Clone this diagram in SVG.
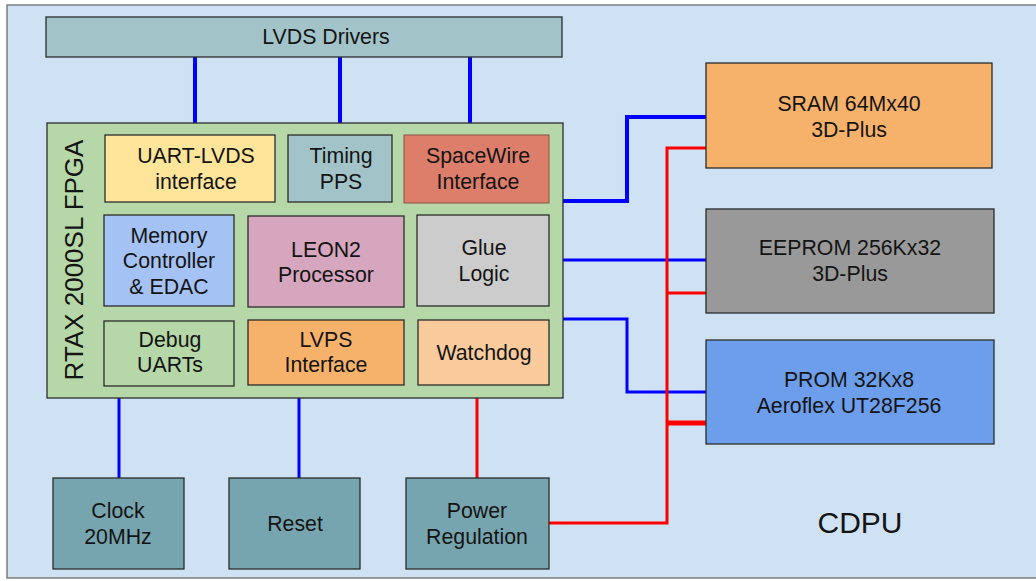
<svg xmlns="http://www.w3.org/2000/svg" width="1036" height="581" viewBox="0 0 1036 581">
  <style>
    text { font-family: "Liberation Sans", Arial, sans-serif; fill: #141414; text-anchor: middle; }
    .lbl { font-size: 21.3px; }
    .box { stroke: #2b2b2b; stroke-width: 1.3; }
    .bus { fill: none; stroke: #0000ff; stroke-linejoin: miter; }
    .pwr { fill: none; stroke: #ff0000; stroke-linejoin: miter; }
  </style>

  <!-- board background -->
  <rect x="7" y="5" width="1040" height="573" fill="#cfe2f3" stroke="#6b6b6b" stroke-width="1.3"/>

  <!-- connectors -->
  <g id="connectors">
    <!-- LVDS driver links -->
    <line class="bus" x1="195" y1="57" x2="195" y2="135" stroke-width="4"/>
    <line class="bus" x1="340" y1="57" x2="340" y2="135" stroke-width="4"/>
    <line class="bus" x1="470" y1="57" x2="470" y2="135" stroke-width="4"/>
    <!-- memory buses -->
    <path class="bus" d="M563,201 H627 V117 H706" stroke-width="4"/>
    <path class="bus" d="M563,260 H706" stroke-width="3"/>
    <path class="bus" d="M563,319 H627 V392 H706" stroke-width="3"/>
    <!-- clock / reset -->
    <line class="bus" x1="119" y1="398" x2="119" y2="478" stroke-width="3"/>
    <line class="bus" x1="299" y1="398" x2="299" y2="478" stroke-width="3"/>
    <!-- power distribution -->
    <line class="pwr" x1="477" y1="398" x2="477" y2="478" stroke-width="3"/>
    <path class="pwr" d="M549,523 H667 V148 H706" stroke-width="3"/>
    <path class="pwr" d="M667,293 H706" stroke-width="3"/>
    <path class="pwr" d="M667,423 H706" stroke-width="5"/>
  </g>

  <g id="lvds-drivers">
    <rect class="box" x="46" y="17" width="516" height="40" fill="#a2c4c9"/>
    <text class="lbl" x="326" y="44">LVDS Drivers</text>
  </g>

  <g id="fpga">
    <rect class="box" x="47" y="123" width="516" height="275" fill="#b6d7a8"/>
    <text transform="translate(83,260) rotate(-90)" font-size="26">RTAX 2000SL FPGA</text>
  </g>

  <g id="uart-lvds">
    <rect class="box" x="105" y="135" width="170" height="67" fill="#ffe599"/>
    <text class="lbl" x="196" y="163">UART-LVDS</text>
    <text class="lbl" x="196" y="189">interface</text>
  </g>

  <g id="timing">
    <rect class="box" x="288" y="135" width="104" height="67" fill="#a2c4c9"/>
    <text class="lbl" x="341" y="163">Timing</text>
    <text class="lbl" x="341" y="189">PPS</text>
  </g>

  <g id="spacewire">
    <rect x="404" y="135" width="145" height="68" fill="#dd7e6b" stroke="#8a5044" stroke-width="1"/>
    <text class="lbl" x="478" y="163">SpaceWire</text>
    <text class="lbl" x="478" y="189">Interface</text>
  </g>

  <g id="memory-controller">
    <rect class="box" x="104" y="215" width="130" height="91" fill="#a4c2f4"/>
    <text class="lbl" x="169" y="243">Memory</text>
    <text class="lbl" x="169" y="268">Controller</text>
    <text class="lbl" x="169" y="294">&amp; EDAC</text>
  </g>

  <g id="leon2">
    <rect class="box" x="248" y="216" width="156" height="91" fill="#d5a6bd"/>
    <text class="lbl" x="326" y="257">LEON2</text>
    <text class="lbl" x="326" y="282">Processor</text>
  </g>

  <g id="glue-logic">
    <rect class="box" x="417" y="215" width="132" height="91" fill="#cccccc"/>
    <text class="lbl" x="484" y="255">Glue</text>
    <text class="lbl" x="484" y="281">Logic</text>
  </g>

  <g id="debug-uarts">
    <rect class="box" x="104" y="321" width="130" height="65" fill="#b6d7a8"/>
    <text class="lbl" x="170" y="347">Debug</text>
    <text class="lbl" x="170" y="372">UARTs</text>
  </g>

  <g id="lvps">
    <rect class="box" x="248" y="320" width="156" height="65" fill="#f6b26b"/>
    <text class="lbl" x="326" y="347">LVPS</text>
    <text class="lbl" x="326" y="372">Interface</text>
  </g>

  <g id="watchdog">
    <rect class="box" x="418" y="320" width="131" height="65" fill="#f9cb9c"/>
    <text class="lbl" x="484" y="360">Watchdog</text>
  </g>

  <g id="sram">
    <rect class="box" x="706" y="63" width="286" height="105" fill="#f6b26b"/>
    <text class="lbl" x="849" y="111">SRAM 64Mx40</text>
    <text class="lbl" x="849" y="137">3D-Plus</text>
  </g>

  <g id="eeprom">
    <rect class="box" x="706" y="209" width="288" height="104" fill="#999999" stroke="#444"/>
    <text class="lbl" x="850" y="255">EEPROM 256Kx32</text>
    <text class="lbl" x="850" y="281">3D-Plus</text>
  </g>

  <g id="prom">
    <rect class="box" x="706" y="340" width="288" height="104" fill="#6d9eeb"/>
    <text class="lbl" x="849" y="387">PROM 32Kx8</text>
    <text class="lbl" x="849" y="413">Aeroflex UT28F256</text>
  </g>

  <g id="clock">
    <rect class="box" x="53" y="478" width="131" height="91" fill="#76a5af"/>
    <text class="lbl" x="118" y="518">Clock</text>
    <text class="lbl" x="118" y="544">20MHz</text>
  </g>

  <g id="reset">
    <rect class="box" x="229" y="478" width="131" height="91" fill="#76a5af"/>
    <text class="lbl" x="295" y="531">Reset</text>
  </g>

  <g id="power-regulation">
    <rect class="box" x="406" y="478" width="143" height="91" fill="#76a5af"/>
    <text class="lbl" x="477" y="518">Power</text>
    <text class="lbl" x="477" y="544">Regulation</text>
  </g>

  <text x="860" y="533" font-size="30">CDPU</text>
</svg>
